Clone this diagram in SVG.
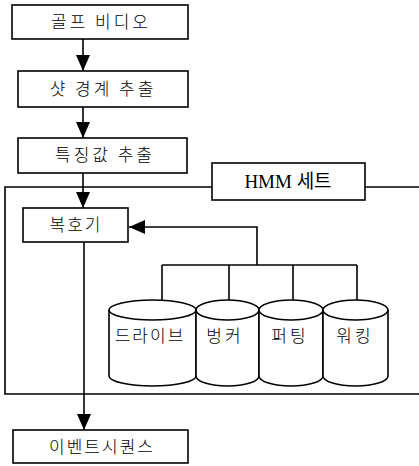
<svg xmlns="http://www.w3.org/2000/svg" width="419" height="466" viewBox="0 0 419 466">
<style>
.box{fill:#fff;stroke:#000;stroke-width:1.6}
.ln{fill:none;stroke:#000;stroke-width:1.6}
.cyl{fill:#fff;stroke:#000;stroke-width:1.6}
.t{font-family:"Noto Sans CJK KR","Noto Sans",sans-serif;font-size:17px;font-weight:300;fill:#000;text-anchor:middle;letter-spacing:3px}
.s{font-family:"Liberation Serif","Noto Sans CJK KR",serif;font-size:19px;fill:#000;text-anchor:middle}
</style>
<defs>
<marker id="ah" markerUnits="userSpaceOnUse" markerWidth="16" markerHeight="14" refX="16" refY="7" orient="auto">
<path d="M0,0 L16,7 L0,14 Z" fill="#000"/>
</marker>
</defs>
<rect width="419" height="466" fill="#fff"/>
<g id="connectors">
<line class="ln" x1="83" y1="39" x2="83" y2="71" marker-end="url(#ah)"/>
<line class="ln" x1="83" y1="107" x2="83" y2="138" marker-end="url(#ah)"/>
<line class="ln" x1="83" y1="173" x2="83" y2="208" marker-end="url(#ah)"/>
<polyline class="ln" points="257,265 257,227 129,227" marker-end="url(#ah)"/>
<line class="ln" x1="162" y1="265" x2="357" y2="265"/>
<line class="ln" x1="162" y1="265" x2="162" y2="301"/>
<line class="ln" x1="229" y1="265" x2="229" y2="301"/>
<line class="ln" x1="293" y1="265" x2="293" y2="301"/>
<line class="ln" x1="357" y1="265" x2="357" y2="301"/>
<line class="ln" x1="84" y1="242" x2="84" y2="430" marker-end="url(#ah)"/>
</g>
<g id="hmm-frame">
<polyline class="ln" points="212,187 5,187 5,394 419,394"/>
<line class="ln" x1="365" y1="187" x2="419" y2="187"/>
</g>
<g id="n-golf">
<rect class="box" x="12" y="5" width="176" height="34"/>
<text class="t" x="101" y="28">골프 비디오</text>
</g>
<g id="n-shot">
<rect class="box" x="18" y="71" width="170" height="36"/>
<text class="t" x="103" y="95">샷 경계 추출</text>
</g>
<g id="n-feat">
<rect class="box" x="18" y="138" width="169" height="35"/>
<text class="t" x="105" y="161">특징값 추출</text>
</g>
<g id="n-hmm">
<rect class="box" x="212" y="163" width="153" height="37"/>
<text class="s" x="288" y="188">HMM 세트</text>
</g>
<g id="n-dec">
<rect class="box" x="23" y="208" width="105" height="34"/>
<text class="t" x="76" y="231" style="letter-spacing:2px">복호기</text>
</g>
<g id="n-drive">
<path class="cyl" d="M109,310 A43.5,10 0 0 1 196,310 L196,376 A43.5,10 0 0 1 109,376 Z"/>
<path class="ln" d="M109,310 A43.5,10 0 0 0 196,310"/>
<text class="t" x="150" y="342" style="letter-spacing:2px">드라이브</text>
</g>
<g id="n-bunker">
<path class="cyl" d="M196,310 A31.5,10 0 0 1 259,310 L259,376 A31.5,10 0 0 1 196,376 Z"/>
<path class="ln" d="M196,310 A31.5,10 0 0 0 259,310"/>
<text class="t" x="225" y="342">벙커</text>
</g>
<g id="n-putting">
<path class="cyl" d="M259,310 A32,10 0 0 1 323,310 L323,376 A32,10 0 0 1 259,376 Z"/>
<path class="ln" d="M259,310 A32,10 0 0 0 323,310"/>
<text class="t" x="290" y="342">퍼팅</text>
</g>
<g id="n-walking">
<path class="cyl" d="M323,310 A32.5,10 0 0 1 388,310 L388,376 A32.5,10 0 0 1 323,376 Z"/>
<path class="ln" d="M323,310 A32.5,10 0 0 0 388,310"/>
<text class="t" x="355" y="342">워킹</text>
</g>
<g id="n-event">
<rect class="box" x="13" y="430" width="175" height="33"/>
<text class="t" x="102" y="453" style="letter-spacing:2px">이벤트시퀀스</text>
</g>
</svg>
